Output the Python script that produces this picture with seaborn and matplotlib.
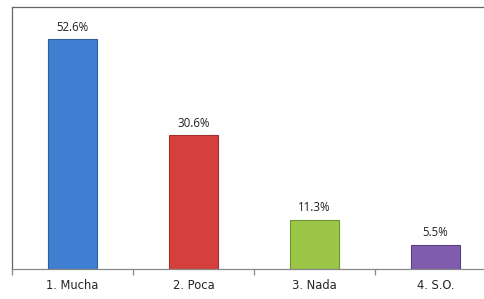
import matplotlib
matplotlib.use("Agg")
import matplotlib.pyplot as plt
import seaborn as sns
import pandas as pd

categories = ["1. Mucha", "2. Poca", "3. Nada", "4. S.O."]
values = [52.6, 30.6, 11.3, 5.5]
labels = ["52.6%", "30.6%", "11.3%", "5.5%"]
colors = ["#3f7fd2", "#d6403c", "#9cc648", "#7f5cad"]
edges = ["#2c5f9e", "#a12f2c", "#6f9330", "#5a3f80"]

df = pd.DataFrame({"cat": categories, "val": values})

sns.set_style("white")
fig = plt.figure(figsize=(4.85, 2.99), dpi=100)
ax = fig.add_axes([12 / 485, 30 / 299, 484 / 485, 262 / 299])

sns.barplot(data=df, x="cat", y="val", hue="cat", palette=colors,
            width=0.41, legend=False, ax=ax, saturation=1)
for p, ec in zip(ax.patches, edges):
    p.set_edgecolor(ec)
    p.set_linewidth(0.8)

for i, (v, t) in enumerate(zip(values, labels)):
    ax.text(i, v + 1.3, t, ha="center", va="bottom", fontsize=8.3,
            family="Open Sans", color="#222222")

ax.set_ylim(0, 60)
ax.set_xlim(-0.5, 3.5)
ax.set_yticks([])
ax.set_xlabel("")
ax.set_ylabel("")
ax.tick_params(axis="x", which="major", length=0, pad=7, labelsize=8.3)
for lbl in ax.get_xticklabels():
    lbl.set_family("Liberation Sans Narrow")
ax.set_xticks([-0.5, 0.5, 1.5, 2.5, 3.5], minor=True)
ax.tick_params(axis="x", which="minor", bottom=True, length=4, width=0.9,
               direction="out", color="#888888")
for s in ax.spines.values():
    s.set_color("#666666")
    s.set_linewidth(0.9)
ax.spines["bottom"].set_color("#888888")
ax.spines["right"].set_visible(False)

fig.savefig("out.png", dpi=100)
